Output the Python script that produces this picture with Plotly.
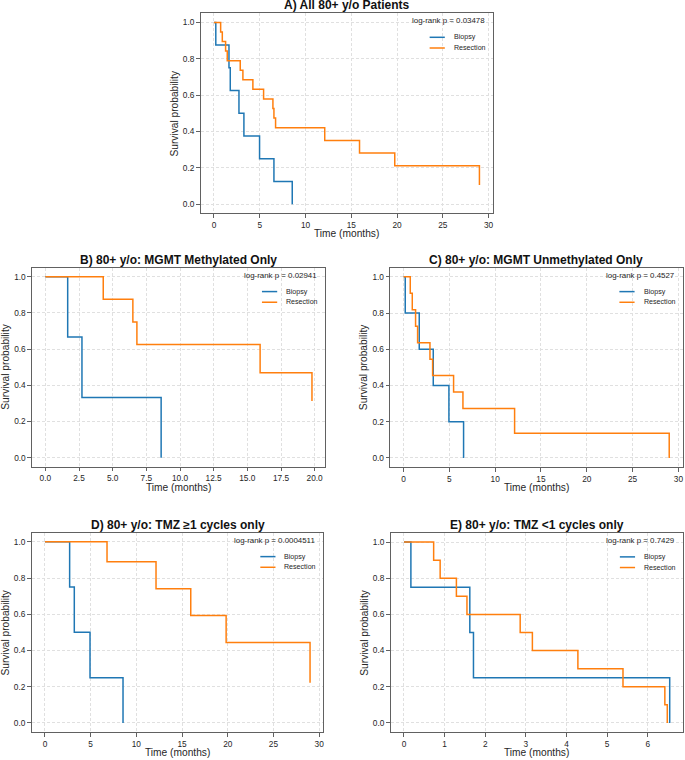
import plotly.graph_objects as go

# ---------------- data ----------------
TITLES = [
    "A) All 80+ y/o Patients",
    "B) 80+ y/o: MGMT Methylated Only",
    "C) 80+ y/o: MGMT Unmethylated Only",
    "D) 80+ y/o: TMZ \u22651 cycles only",
    "E) 80+ y/o: TMZ <1 cycles only",
]
PVALUES = ["0.03478", "0.02941", "0.4527", "0.0004511", "0.7429"]
SERIES = ["Biopsy", "Resection"]

A_BIOPSY_T = [0, 0.2, 1.64, 1.78, 2.73, 3.27, 4.98, 6.55, 8.55]
A_BIOPSY_S = [1.0, 0.875, 0.75, 0.625, 0.5, 0.375, 0.25, 0.125, 0.0]
A_RESECT_T = [0, 0.73, 0.91, 1.27, 1.45, 2.87, 3.16, 4.25, 5.42, 6.44, 6.55, 6.73, 12.1, 15.9, 19.75, 29.0]
A_RESECT_S = [1.0, 0.947, 0.895, 0.842, 0.789, 0.737, 0.684, 0.632, 0.579, 0.526, 0.474, 0.421, 0.351, 0.281, 0.211, 0.105]

B_BIOPSY_T = [0, 1.66, 2.72, 8.6]
B_BIOPSY_S = [1.0, 0.667, 0.333, 0.0]
B_RESECT_T = [0, 4.3, 6.5, 6.8, 15.95, 19.8]
B_RESECT_S = [1.0, 0.875, 0.75, 0.625, 0.469, 0.3125]

C_BIOPSY_T = [0, 0.18, 1.71, 3.24, 4.95, 6.55]
C_BIOPSY_S = [1.0, 0.8, 0.6, 0.4, 0.2, 0.0]
C_RESECT_T = [0, 0.73, 0.95, 1.31, 1.53, 2.88, 3.17, 5.46, 6.48, 12.12, 29.0]
C_RESECT_S = [1.0, 0.909, 0.818, 0.727, 0.636, 0.545, 0.455, 0.364, 0.273, 0.136, 0.0]

D_BIOPSY_T = [0, 2.7, 3.21, 4.93, 8.54]
D_BIOPSY_S = [1.0, 0.75, 0.5, 0.25, 0.0]
D_RESECT_T = [0, 6.79, 12.15, 15.95, 19.82, 29.0]
D_RESECT_S = [1.0, 0.889, 0.741, 0.593, 0.444, 0.222]

E_BIOPSY_T = [0, 0.17, 1.62, 1.71, 6.54]
E_BIOPSY_S = [1.0, 0.75, 0.5, 0.25, 0.0]
E_RESECT_T = [0, 0.73, 0.89, 1.29, 1.55, 2.86, 3.16, 4.28, 5.39, 6.42, 6.48]
E_RESECT_S = [1.0, 0.9, 0.8, 0.7, 0.6, 0.5, 0.4, 0.3, 0.2, 0.1, 0.0]

X_DTICKS = [5, 2.5, 5, 5, 1]
Y_TICKS = [0.0, 0.2, 0.4, 0.6, 0.8, 1.0]

# ---------------- styling / layout ----------------
W, H = 685, 760
BLUE = "#1f77b4"
ORANGE = "#ff7f0e"
FONT = "Liberation Sans, Arial, sans-serif"
TXT = "#262626"
SPINE = "#616161"
GRID = "#e0e0e0"

# plot boxes in pixels: (left, right, top, bottom)
BOXES = [
    (200.7, 492.7, 13.3, 213.3),
    (32.0, 325.3, 267.7, 466.7),
    (390.3, 682.5, 267.7, 467.0),
    (31.7, 323.3, 532.7, 732.0),
    (390.7, 683.0, 533.0, 732.0),
]

data = [
    (A_BIOPSY_T, A_BIOPSY_S, A_RESECT_T, A_RESECT_S),
    (B_BIOPSY_T, B_BIOPSY_S, B_RESECT_T, B_RESECT_S),
    (C_BIOPSY_T, C_BIOPSY_S, C_RESECT_T, C_RESECT_S),
    (D_BIOPSY_T, D_BIOPSY_S, D_RESECT_T, D_RESECT_S),
    (E_BIOPSY_T, E_BIOPSY_S, E_RESECT_T, E_RESECT_S),
]

fig = go.Figure()
annotations = []
shapes = []
layout_axes = {}

for i, (bt, bs, rt, rs) in enumerate(data):
    sfx = "" if i == 0 else str(i + 1)
    xa, ya = "x" + sfx, "y" + sfx
    for t, s, col, name in ((bt, bs, BLUE, SERIES[0]), (rt, rs, ORANGE, SERIES[1])):
        fig.add_trace(go.Scatter(
            x=t, y=s, mode="lines", name=name, showlegend=False,
            line=dict(color=col, width=1.5, shape="hv"),
            xaxis=xa, yaxis=ya, hoverinfo="x+y+name"))

    l, r, t_, b = BOXES[i]
    tmax = max(max(bt), max(rt))
    xr = [-0.05 * tmax, 1.05 * tmax]
    dt = X_DTICKS[i]
    fmt = ".1f" if dt == 2.5 else "d"
    common = dict(
        showline=True, mirror=True, linecolor=SPINE, linewidth=1.3,
        ticks="outside", ticklen=3.5, tickwidth=1, tickcolor=SPINE,
        showgrid=True, gridcolor=GRID, gridwidth=0.7, griddash="3px,2px",
        zeroline=False, tickfont=dict(family=FONT, size=8.3, color=TXT),
    )
    layout_axes["xaxis" + sfx] = dict(
        domain=[l / W, r / W], range=xr, anchor=ya, tick0=0, dtick=dt,
        tickformat=fmt, **common)
    layout_axes["yaxis" + sfx] = dict(
        domain=[1 - b / H, 1 - t_ / H], range=[-0.05, 1.05], anchor=xa,
        tickvals=Y_TICKS, tickformat=".1f", **common)

    xd, yd = xa + " domain", ya + " domain"
    # subplot title
    annotations.append(dict(text="<b>%s</b>" % TITLES[i], xref=xd, yref=yd,
                            x=0.5, y=1, yshift=7.8, xanchor="center", yanchor="middle",
                            showarrow=False, font=dict(family=FONT, size=12, color="#111")))
    # axis titles
    annotations.append(dict(text="Time (months)", xref=xd, yref=yd, x=0.5, y=0,
                            yshift=-20.5, xanchor="center", yanchor="middle",
                            showarrow=False, font=dict(family=FONT, size=10.2, color=TXT)))
    annotations.append(dict(text="Survival probability", xref=xd, yref=yd, x=0, y=0.5,
                            xshift=-26.5, xanchor="center", yanchor="middle", textangle=-90,
                            showarrow=False, font=dict(family=FONT, size=10.2, color=TXT)))
    # log-rank text
    annotations.append(dict(text="log-rank p = %s" % PVALUES[i], xref=xd, yref=yd,
                            x=0.979, y=0.9615, xanchor="right", yanchor="middle",
                            showarrow=False, font=dict(family=FONT, size=7.9, color=TXT)))
    # legend (manual, matplotlib-like)
    for name, col, yy in ((SERIES[0], BLUE, 0.88), (SERIES[1], ORANGE, 0.8265)):
        shapes.append(dict(type="line", xref=xd, yref=yd, x0=0.784, x1=0.836,
                           y0=yy, y1=yy, line=dict(color=col, width=1.5)))
        annotations.append(dict(text=name, xref=xd, yref=yd, x=0.860, y=yy,
                                xanchor="left", yanchor="middle", showarrow=False,
                                font=dict(family=FONT, size=7.1, color=TXT)))

fig.update_layout(
    width=W, height=H, autosize=False,
    margin=dict(l=0, r=0, t=0, b=0, pad=0),
    paper_bgcolor="white", plot_bgcolor="white",
    font=dict(family=FONT, color=TXT),
    showlegend=False,
    annotations=annotations, shapes=shapes,
    **layout_axes,
)

fig.write_html("out.html")
